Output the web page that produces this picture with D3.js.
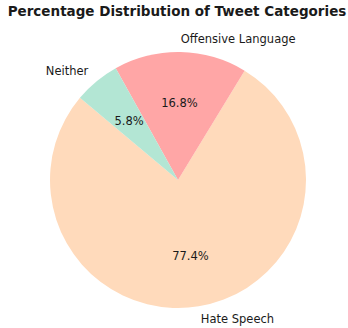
<!DOCTYPE html>
<html>
<head>
<meta charset="utf-8">
<script src="https://cdn.jsdelivr.net/npm/d3@7"></script>
<style>
body { margin: 0; background: #fff; }
text { font-family: "DejaVu Sans", sans-serif; fill: #1a1a1a; }
</style>
</head>
<body>
<script>
// chart data
var categories = ["Hate Speech", "Offensive Language", "Neither"]
var shares = [77.4, 16.8, 5.8]
var colors = ["#ffdabb", "#ffa6a6", "#b3e6d4"]

var width = 348
var height = 328
var cx = 178, cy = 180, r = 128
var startDeg = 140  // matplotlib style start angle, counter-clockwise

var svg = d3.select("body").append("svg")
    .attr("width", width)
    .attr("height", height)

svg.append("text")
    .attr("x", 177)
    .attr("y", 16)
    .attr("text-anchor", "middle")
    .style("font-weight", "bold")
    .style("font-size", "13.5px")
    .text("Percentage Distribution of Tweet Categories")

var data = categories.map(function(c, i) { return {name: c, value: shares[i], color: colors[i]} })

// d3 angles go clockwise from 12 o'clock; matplotlib goes ccw from 3 o'clock
var toD3 = function(deg) { return (90 - deg) * Math.PI / 180 }

var pie = d3.pie()
    .sort(null)
    .value(function(d) { return d.value })
    .startAngle(toD3(startDeg))
    .endAngle(toD3(startDeg) - 2 * Math.PI)

var arcs = pie(data)
var arc = d3.arc().innerRadius(0).outerRadius(r)

var g = svg.append("g").attr("transform", "translate(" + cx + "," + cy + ")")

g.selectAll("path")
    .data(arcs)
    .enter().append("path")
    .attr("d", arc)
    .attr("fill", function(d) { return d.data.color })

var mid = function(d) { return (d.startAngle + d.endAngle) / 2 }

// category labels outside
g.selectAll("text.lab")
    .data(arcs)
    .enter().append("text")
    .attr("class", "lab")
    .attr("x", function(d) { return Math.sin(mid(d)) * r * 1.1 })
    .attr("y", function(d) { return -Math.cos(mid(d)) * r * 1.1 })
    .attr("dy", "0.35em")
    .attr("text-anchor", function(d) { return Math.sin(mid(d)) >= 0 ? "start" : "end" })
    .style("font-size", "11.5px")
    .text(function(d) { return d.data.name })

// percentages inside
g.selectAll("text.pct")
    .data(arcs)
    .enter().append("text")
    .attr("class", "pct")
    .attr("x", function(d) { return Math.sin(mid(d)) * r * 0.6 })
    .attr("y", function(d) { return -Math.cos(mid(d)) * r * 0.6 })
    .attr("dy", "0.35em")
    .attr("text-anchor", "middle")
    .style("font-size", "11.5px")
    .text(function(d) { return d.data.value.toFixed(1) + "%" })
</script>
</body>
</html>
